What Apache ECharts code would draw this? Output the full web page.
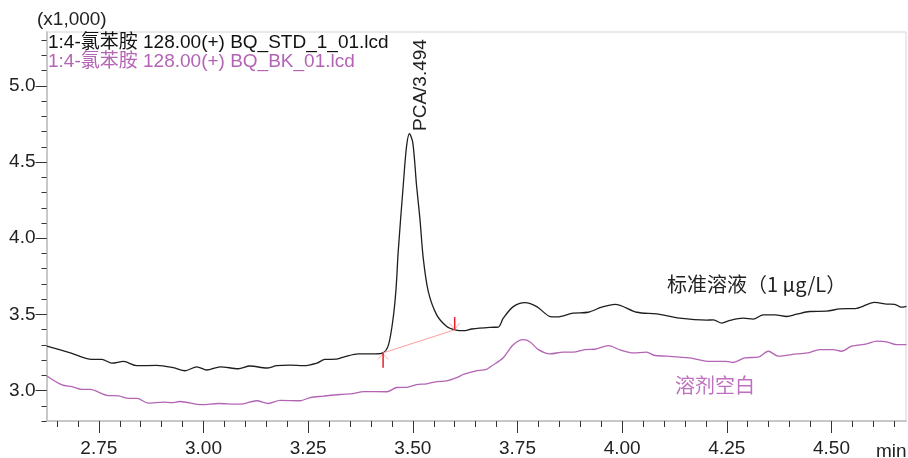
<!DOCTYPE html>
<html><head><meta charset="utf-8">
<script src="https://cdn.jsdelivr.net/npm/echarts@6/dist/echarts.min.js"></script>
<style>html,body{margin:0;padding:0;background:#fff}#c{width:908px;height:458px}</style>
</head><body><div id="c"></div>
<script>
// ---- data (retention time in min, intensity x1,000) ----
const stdTimes = [2.626,2.682,2.733,2.757,2.781,2.809,2.841,2.888,2.928,2.956,2.984,3.008,3.040,3.083,3.111,3.151,3.175,3.207,3.239,3.271,3.290,3.318,3.338,3.370,3.410,3.429,3.442,3.453,3.460,3.465,3.477,3.485,3.492,3.500,3.509,3.517,3.525,3.537,3.557,3.581,3.601,3.621,3.641,3.684,3.704,3.716,3.740,3.768,3.796,3.828,3.845,3.883,3.919,3.951,3.983,4.035,4.082,4.137,4.202,4.218,4.238,4.257,4.289,4.313,4.337,4.365,4.393,4.417,4.448,4.488,4.520,4.560,4.603,4.632,4.651,4.667,4.679];
const stdValues = [3.291,3.247,3.204,3.204,3.180,3.191,3.163,3.165,3.150,3.130,3.156,3.135,3.156,3.143,3.161,3.148,3.163,3.167,3.163,3.180,3.204,3.206,3.223,3.241,3.241,3.247,3.301,3.475,3.671,3.909,4.343,4.603,4.686,4.626,4.343,4.127,3.866,3.649,3.497,3.421,3.399,3.393,3.404,3.415,3.417,3.475,3.551,3.577,3.551,3.486,3.483,3.508,3.514,3.547,3.566,3.514,3.503,3.475,3.462,3.464,3.443,3.460,3.475,3.469,3.497,3.497,3.486,3.501,3.519,3.521,3.536,3.540,3.579,3.568,3.566,3.547,3.553];
const blankTimes = [2.626,2.662,2.686,2.709,2.729,2.773,2.797,2.821,2.841,2.868,2.904,2.924,2.944,2.996,3.036,3.080,3.095,3.127,3.155,3.183,3.231,3.255,3.286,3.326,3.358,3.382,3.438,3.462,3.485,3.509,3.533,3.557,3.581,3.605,3.621,3.649,3.676,3.688,3.716,3.740,3.764,3.780,3.800,3.828,3.859,3.883,3.911,3.935,3.967,3.995,4.027,4.058,4.078,4.106,4.137,4.170,4.209,4.249,4.265,4.293,4.325,4.349,4.373,4.417,4.444,4.472,4.504,4.524,4.548,4.584,4.608,4.632,4.655,4.679];
const blankValues = [3.096,3.037,3.026,3.008,3.007,2.967,2.965,2.948,2.948,2.917,2.924,2.920,2.928,2.907,2.915,2.911,2.913,2.933,2.915,2.935,2.933,2.954,2.963,2.974,2.980,2.993,2.992,3.020,3.021,3.039,3.044,3.059,3.063,3.085,3.106,3.128,3.139,3.161,3.215,3.301,3.334,3.319,3.269,3.241,3.252,3.252,3.269,3.271,3.295,3.267,3.247,3.252,3.230,3.226,3.219,3.210,3.191,3.191,3.184,3.215,3.219,3.258,3.226,3.241,3.247,3.269,3.269,3.258,3.291,3.306,3.324,3.319,3.301,3.301];
// integration baseline of the PCA peak and its start/end markers
const baselinePoints = [[3.429,3.247],[3.600,3.399]];
const startMark = [[3.429,3.150],[3.429,3.247]];
const endMark = [[3.600,3.482],[3.600,3.399]];
const startArrow = [[3.417,3.204],[3.429,3.243],[3.441,3.204]];
const endArrow = [[3.588,3.443],[3.600,3.399],[3.612,3.443]];
// axes
const xMin = 2.625, xMax = 4.678, yMin = 2.8, yMax = 5.354;
const xMajorTicks = [2.75,3.00,3.25,3.50,3.75,4.00,4.25,4.50];
const xMinorTicks = [2.65,2.70,2.75,2.80,2.85,2.90,2.95,3.00,3.05,3.10,3.15,3.20,3.25,3.30,3.35,3.40,3.45,3.50,3.55,3.60,3.65,3.70,3.75,3.80,3.85,3.90,3.95,4.00,4.05,4.10,4.15,4.20,4.25,4.30,4.35,4.40,4.45,4.50,4.55,4.60,4.65];
const yMajorTicks = [3.0,3.5,4.0,4.5,5.0];
const yMinorTicks = [2.8,2.9,3.0,3.1,3.2,3.3,3.4,3.5,3.6,3.7,3.8,3.9,4.0,4.1,4.2,4.3,4.4,4.5,4.6,4.7,4.8,4.9,5.0,5.1,5.2,5.3];
const legendStd = '1:4-氯苯胺 128.00(+) BQ_STD_1_01.lcd';
const legendBlank = '1:4-氯苯胺 128.00(+) BQ_BK_01.lcd';
const peakLabel = 'PCA/3.494';
const stdNote = '标准溶液（1 μg/L）';
const blankNote = '溶剂空白';

const zip = (a, b) => a.map((v, i) => [v, b[i]]);
const FONT = '"Liberation Sans", Arial, "Noto Sans CJK SC", sans-serif';
const BLACK = '#1e1e1e', PURPLE = '#b464b4';

const chart = echarts.init(document.getElementById('c'), null, {renderer: 'canvas'});
const tickStyle = {color: '#333', width: 1};
chart.setOption({
  animation: false,
  backgroundColor: '#fff',
  grid: {left: 46.5, right: 2, top: 32, bottom: 34, show: true, borderColor: '#d4d4d4', borderWidth: 1},
  xAxis: [
    {type: 'value', min: xMin, max: xMax, position: 'bottom',
     axisLine: {show: true, lineStyle: {color: '#c8c8c8', width: 2}},
     axisTick: {show: true, length: 6, lineStyle: tickStyle, customValues: xMinorTicks},
     axisLabel: {show: false}, splitLine: {show: false}},
    {type: 'value', min: xMin, max: xMax, position: 'bottom', offset: 0,
     axisLine: {show: false},
     axisTick: {show: true, length: 12, lineStyle: tickStyle, customValues: xMajorTicks},
     axisLabel: {show: true, customValues: xMajorTicks, margin: 18, fontSize: 19, color: '#222', fontFamily: FONT,
       formatter: v => Number(v).toFixed(2)},
     splitLine: {show: false}}
  ],
  yAxis: [
    {type: 'value', min: yMin, max: yMax, position: 'left',
     axisLine: {show: true, lineStyle: {color: '#c8c8c8', width: 2}},
     axisTick: {show: true, length: 5, lineStyle: tickStyle, customValues: yMinorTicks},
     axisLabel: {show: false}, splitLine: {show: false}},
    {type: 'value', min: yMin, max: yMax, position: 'left', offset: 0,
     axisLine: {show: false},
     axisTick: {show: true, length: 11, lineStyle: tickStyle, customValues: yMajorTicks},
     axisLabel: {show: true, customValues: yMajorTicks, margin: 11, fontSize: 19, color: '#222', fontFamily: FONT,
       formatter: v => Number(v).toFixed(1)},
     splitLine: {show: false}}
  ],
  series: [
    {type: 'line', data: zip(blankTimes, blankValues), showSymbol: false, smooth: 0.3,
     lineStyle: {color: PURPLE, width: 1.3}, z: 3},
    {type: 'line', data: zip(stdTimes, stdValues), showSymbol: false, smooth: 0.3,
     lineStyle: {color: BLACK, width: 1.3}, z: 4},
    {type: 'line', data: baselinePoints, showSymbol: false, lineStyle: {color: '#ff9e9e', width: 1}, z: 5},
    {type: 'line', data: startArrow, showSymbol: false, lineStyle: {color: '#ffb0b0', width: 1}, z: 5},
    {type: 'line', data: endArrow, showSymbol: false, lineStyle: {color: '#ffb0b0', width: 1}, z: 5},
    {type: 'line', data: startMark, showSymbol: false, lineStyle: {color: '#e8202a', width: 1.5}, z: 6},
    {type: 'line', data: endMark, showSymbol: false, lineStyle: {color: '#e8202a', width: 1.5}, z: 6}
  ],
  graphic: [
    {type: 'text', left: 37, top: 10, style: {text: '(x1,000)', fill: '#222', font: '19px ' + FONT}},
    {type: 'text', x: 48, y: 43, style: {text: legendStd, fill: '#111', font: '19px ' + FONT, textVerticalAlign: 'middle'}},
    {type: 'text', x: 48, y: 61.5, style: {text: legendBlank, fill: PURPLE, font: '19px ' + FONT, textVerticalAlign: 'middle'}},
    {type: 'text', x: 421, y: 131, rotation: Math.PI / 2, style: {text: peakLabel, fill: '#222', font: '19px ' + FONT, textAlign: 'left', textVerticalAlign: 'middle'}},
    {type: 'text', x: 667, y: 284, style: {text: stdNote, fill: '#222', font: '20px "Noto Sans CJK SC"', textVerticalAlign: 'middle'}},
    {type: 'text', x: 675, y: 385, style: {text: blankNote, fill: '#c070c0', font: '20px "Noto Sans CJK SC"', textVerticalAlign: 'middle'}},
    {type: 'text', x: 876, y: 452, style: {text: 'min', fill: '#222', font: '19px ' + FONT, textVerticalAlign: 'middle'}}
  ]
});
</script>
</body></html>
